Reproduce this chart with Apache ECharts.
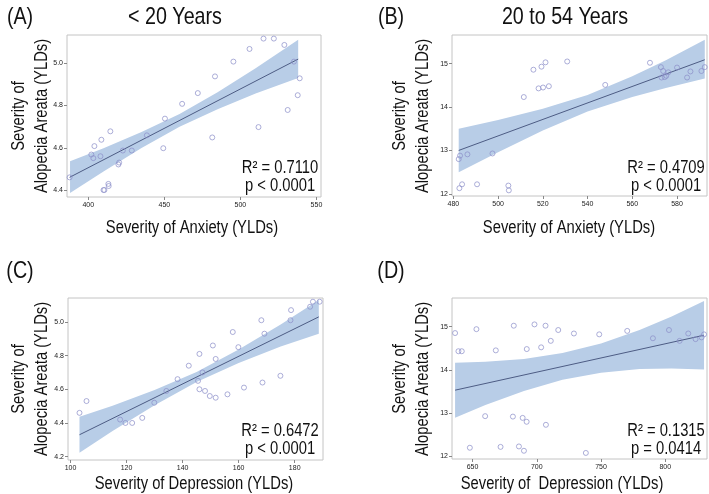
<!DOCTYPE html>
<html>
<head>
<meta charset="utf-8">
<style>
  html, body { margin: 0; padding: 0; background: #fff; }
  #chart { width: 709px; height: 494px; }
</style>
<script src="https://cdn.jsdelivr.net/npm/echarts@6.0.0/dist/echarts.min.js"></script>
</head>
<body>
<div id="chart"></div>
<script>
const FONT = '"Liberation Sans", Arial, sans-serif'
const NARROW = 0.82 // the figure uses a narrow sans, so text is squeezed sideways
const BAND = '#b8cde7'
const FIT = '#4d5c84'
const DOT = '#8b8ec8'

// (A) < 20 years, anxiety vs alopecia areata
const anxYoungX = [387.7, 402, 403.3, 404, 408, 408.6, 414.5, 410, 410.6, 413.2, 413.4, 419.8, 420.3, 422.7, 428.6, 438.5,
  449.3, 450.4, 461.7, 472, 481.5, 483.3, 495.4, 506, 511.9, 515.2, 522, 528.9, 531.1, 535.2, 537.7, 539]
const anxYoungY = [4.46, 4.568, 4.551, 4.608, 4.56, 4.638, 4.678, 4.4, 4.4, 4.429, 4.419, 4.521, 4.53, 4.587, 4.587, 4.659,
  4.598, 4.738, 4.808, 4.859, 4.649, 4.938, 5.008, 5.068, 4.698, 5.117, 5.117, 5.087, 4.779, 5.008, 4.849, 4.929]
const fitA = [[387.7, 4.46], [538, 5.02]]
const bandAX = [388, 410, 435, 460, 485, 510, 538]
const bandAUp = [4.536, 4.598, 4.675, 4.760, 4.863, 4.977, 5.111]
const bandALo = [4.386, 4.488, 4.599, 4.700, 4.783, 4.857, 4.931]

// (B) 20 to 54 years, anxiety
const anxMidX = [482.4, 483, 486.3, 497.5, 482.7, 483.9, 490.6, 504.6, 504.8, 511.5, 515.8, 518.1, 519.4, 520.1, 521.2,
  522.7, 530.9, 547.9, 567.9, 572.8, 573.1, 573.8, 574.5, 575.2, 576.1, 580, 584.5, 586, 590.9, 592.4]
const anxMidY = [12.8, 12.88, 12.91, 12.93, 12.13, 12.22, 12.22, 12.19, 12.08, 14.23, 14.86, 14.43, 14.93, 14.45, 15.03,
  14.48, 15.05, 14.51, 15.02, 14.92, 14.68, 14.83, 14.69, 14.72, 14.8, 14.91, 14.68, 14.82, 14.83, 14.92]
const fitB = [[482.4, 13.0], [592.4, 15.09]]
const bandBX = [482.4, 500, 520, 540, 560, 575, 592.4]
const bandBUp = [13.50, 13.70, 13.96, 14.28, 14.71, 15.08, 15.55]
const bandBLo = [12.50, 12.96, 13.46, 13.90, 14.23, 14.44, 14.66]

// (C) < 20 years, depression
const depYoungX = [103.2, 105.7, 117.7, 119.6, 122, 125.6, 129.9, 134.2, 138.2, 142.2, 145.5, 146, 146, 147.1, 148, 149.7,
  150.8, 151.8, 151.8, 156, 157.9, 159.9, 161.9, 168.1, 168.5, 169.2, 174.9, 178.5, 178.7, 185.5, 186.5, 188.9]
const depYoungY = [4.46, 4.53, 4.42, 4.4, 4.4, 4.43, 4.52, 4.59, 4.66, 4.74, 4.65, 4.81, 4.6, 4.7, 4.59, 4.56,
  4.86, 4.78, 4.55, 4.57, 4.94, 4.85, 4.61, 5.01, 4.64, 4.93, 4.68, 5.01, 5.07, 5.09, 5.12, 5.12]
const fitC = [[103.2, 4.33], [188.6, 5.03]]
const bandCX = [103.2, 115, 130, 145, 160, 175, 188.6]
const bandCUp = [4.437, 4.502, 4.595, 4.703, 4.836, 4.984, 5.130]
const bandCLo = [4.223, 4.352, 4.505, 4.643, 4.756, 4.854, 4.930]

// (D) 20 to 54 years, depression
const depMidX = [636.4, 639, 641.6, 653, 668.1, 682.1, 692.2, 698.2, 703.4, 706.8, 710.9, 716.7, 728.9, 748.6, 770.4, 790.4,
  802.9, 811.2, 817.9, 823.6, 828.3, 830.2, 659.8, 681.4, 689, 692.1, 707.1, 647.9, 671.8, 686.1, 690, 738.2]
const depMidY = [14.85, 14.43, 14.43, 14.94, 14.45, 15.02, 14.48, 15.05, 14.52, 15.02, 14.67, 14.92, 14.84, 14.82, 14.9, 14.73,
  14.92, 14.67, 14.84, 14.71, 14.75, 14.82, 12.93, 12.92, 12.89, 12.8, 12.73, 12.2, 12.22, 12.23, 12.13, 12.08]
const fitD = [[636.4, 13.53], [830.2, 14.80]]
const bandDX = [636.4, 660, 690, 720, 750, 780, 805, 830.2]
const bandDUp = [14.165, 14.185, 14.25, 14.39, 14.61, 14.92, 15.23, 15.59]
const bandDLo = [12.895, 13.185, 13.51, 13.77, 13.93, 14.02, 14.03, 14.01]

const ticksAX = [400, 450, 500, 550]
const ticksAY = [4.4, 4.6, 4.8, 5.0]
const ticksBX = [480, 500, 520, 540, 560, 580]
const ticksBY = [12, 13, 14, 15]
const ticksCX = [100, 120, 140, 160, 180]
const ticksCY = [4.2, 4.4, 4.6, 4.8, 5.0]
const ticksDX = [650, 700, 750, 800]
const ticksDY = [12, 13, 14, 15]

const panels = [
  { box: [67, 35, 254, 162], xr: [386, 553], yr: [4.367, 5.134], xt: ticksAX, yt: ticksAY, dec: 1,
    xs: anxYoungX, ys: anxYoungY, fit: fitA, bx: bandAX, bu: bandAUp, bl: bandALo },
  { box: [452, 35, 255, 161], xr: [479.4, 593.4], yr: [11.95, 15.66], xt: ticksBX, yt: ticksBY, dec: 0,
    xs: anxMidX, ys: anxMidY, fit: fitB, bx: bandBX, bu: bandBUp, bl: bandBLo },
  { box: [68, 298, 255, 162], xr: [99.1, 190.1], yr: [4.18, 5.142], xt: ticksCX, yt: ticksCY, dec: 1,
    xs: depYoungX, ys: depYoungY, fit: fitC, bx: bandCX, bu: bandCUp, bl: bandCLo },
  { box: [452, 298, 255, 161], xr: [634, 832.5], yr: [11.94, 15.66], xt: ticksDX, yt: ticksDY, dec: 0,
    xs: depMidX, ys: depMidY, fit: fitD, bx: bandDX, bu: bandDUp, bl: bandDLo },
]

function bandRenderer(xs, up, lo) {
  return function (params, api) {
    const pts = []
    for (let i = 0; i < xs.length; i++) pts.push(api.coord([xs[i], up[i]]))
    for (let i = xs.length - 1; i >= 0; i--) pts.push(api.coord([xs[i], lo[i]]))
    return { type: 'polygon', shape: { points: pts }, style: { fill: BAND } }
  }
}

const tickLabel = { fontSize: 7, color: '#222', fontFamily: FONT }

const grid = panels.map((p) => ({
  left: p.box[0], top: p.box[1], width: p.box[2], height: p.box[3],
  show: true, borderColor: '#c4c4c4', borderWidth: 1,
}))

const xAxis = panels.map((p, i) => ({
  gridIndex: i, type: 'value', min: p.xr[0], max: p.xr[1],
  axisLine: { show: false },
  splitLine: { show: false },
  axisTick: { show: true, length: 3, lineStyle: { color: '#888' }, customValues: p.xt },
  axisLabel: { ...tickLabel, margin: 5, customValues: p.xt },
}))

const yAxis = panels.map((p, i) => ({
  gridIndex: i, type: 'value', min: p.yr[0], max: p.yr[1],
  axisLine: { show: false },
  splitLine: { show: false },
  axisTick: { show: true, length: 3, lineStyle: { color: '#888' }, customValues: p.yt },
  axisLabel: { ...tickLabel, margin: 4, customValues: p.yt, formatter: (v) => v.toFixed(p.dec) },
}))

const series = []
panels.forEach((p, i) => {
  series.push({
    type: 'custom', xAxisIndex: i, yAxisIndex: i, silent: true, z: 1,
    renderItem: bandRenderer(p.bx, p.bu, p.bl),
    data: [[p.bx[0], p.bl[0]]],
  })
  series.push({
    type: 'line', xAxisIndex: i, yAxisIndex: i, z: 2, symbol: 'none', silent: true,
    lineStyle: { color: FIT, width: 1 },
    data: p.fit,
  })
  series.push({
    type: 'scatter', xAxisIndex: i, yAxisIndex: i, z: 3, symbol: 'circle', symbolSize: 5,
    itemStyle: { color: 'rgba(0,0,0,0)', borderColor: DOT, borderWidth: 0.9 },
    data: p.xs.map((x, k) => [x, p.ys[k]]),
  })
})

// all texts squeezed sideways; rotated ones read bottom to top
function txt(text, x, y, size, rotated) {
  return {
    type: 'text', x, y, silent: true, scaleX: NARROW, rotation: rotated ? Math.PI / 2 : 0,
    style: { text, fontSize: size, fontFamily: FONT, fill: '#111', align: 'center', verticalAlign: 'middle' },
  }
}

const graphic = [
  txt('(A)', 20, 17, 24), txt('< 20 Years', 175, 17, 24),
  txt('(B)', 391, 17, 24), txt('20 to 54 Years', 565, 17, 24),
  txt('(C)', 20, 271, 24), txt('(D)', 391, 271, 24),
  txt('R\u00b2 = 0.7110', 280, 168, 18), txt('p < 0.0001', 280, 186, 18),
  txt('R\u00b2 = 0.4709', 666, 168, 18), txt('p < 0.0001', 666, 186, 18),
  txt('R\u00b2 = 0.6472', 280, 431, 18), txt('p < 0.0001', 280, 449, 18),
  txt('R\u00b2 = 0.1315', 666, 431, 18), txt('p = 0.0414', 666, 449, 18),
  txt('Severity of Anxiety (YLDs)', 192, 228, 18), txt('Severity of Anxiety (YLDs)', 569, 228, 18),
  txt('Severity of Depression (YLDs)', 194, 484, 18), txt('Severity of  Depression (YLDs)', 562, 484, 18),
  txt('Severity of', 19, 116, 18, true), txt('Alopecia Areata (YLDs)', 42, 116, 18, true),
  txt('Severity of', 400, 116, 18, true), txt('Alopecia Areata (YLDs)', 423, 116, 18, true),
  txt('Severity of', 19, 379, 18, true), txt('Alopecia Areata (YLDs)', 42, 379, 18, true),
  txt('Severity of', 400, 379, 18, true), txt('Alopecia Areata (YLDs)', 423, 379, 18, true),
]

const chart = echarts.init(document.getElementById('chart'), null, { renderer: 'canvas' })
chart.setOption({
  animation: false,
  backgroundColor: '#fff',
  grid, xAxis, yAxis, series, graphic,
})
</script>
</body>
</html>
